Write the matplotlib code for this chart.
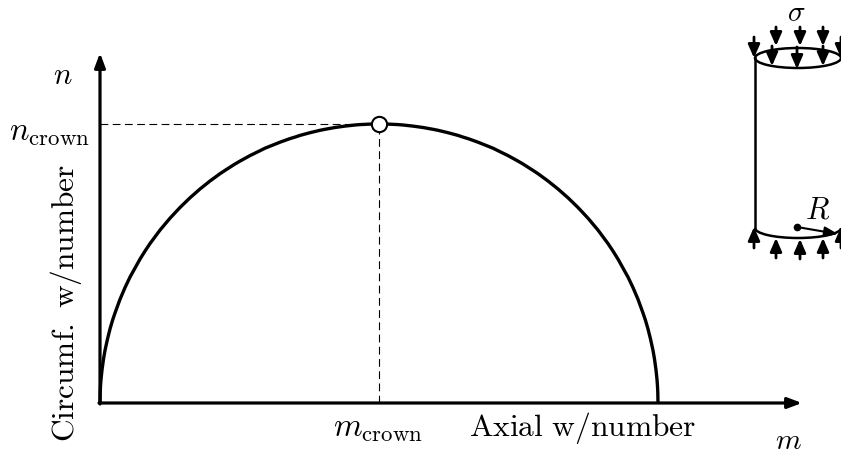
import matplotlib
matplotlib.use('Agg')
import matplotlib.pyplot as plt
from matplotlib.patches import Ellipse, Arc

plt.rcParams['mathtext.fontset'] = 'cm'

# curve, in wave number units
m_left = [0, 0.2, 0.5, 1, 2, 3.5, 5, 7.5, 10, 12.5, 15, 20, 25, 30, 40, 45, 50, 60, 70, 80, 90, 100,
          110, 120, 125, 135, 140, 150, 160, 165, 170, 180, 190, 195, 200, 210, 220, 225, 235, 245,
          255, 260, 270]
n_left = [0, 10.5, 16.7, 23.6, 33, 44, 52.6, 64, 74, 82.6, 90, 103.7, 115.4, 125.9, 143.9, 151.9,
          159.4, 172.9, 184.8, 195.5, 205.2, 214, 222, 229.3, 232.6, 239, 241.9, 247.4, 252.3,
          254.8, 256.8, 260.8, 264.4, 265.9, 267.6, 270.3, 272.7, 273.7, 275.5, 276.9, 278, 278.4,
          278.9]
m_crown = 279
n_crown = 279
m_right = [2 * m_crown - v for v in reversed(m_left)]
n_right = list(reversed(n_left))
m_curve = m_left + [m_crown] + m_right
n_curve = n_left + [n_crown] + n_right

# cylinder sketch, pixel positions in the sketch
top_outer_x = [754, 776, 800, 823, 841]
top_outer_start = [37, 27, 27, 27, 37]
top_outer_tip = [58, 46, 46, 46, 58]
top_inner_x = [772, 797, 823]
top_inner_start = [46, 47, 46]
top_inner_tip = [66, 69, 66]
bot_x = [754, 776, 800, 823, 841]
bot_start = [248, 258, 259, 258, 248]
bot_tip = [227, 238, 239, 238, 227]

fig = plt.figure(figsize=(8.41, 4.54), dpi=100)

# main axes, one unit is one pixel
ax = fig.add_axes([0, 0, 1, 1])
ax.set_xlim(-100, 741)
ax.set_ylim(-51, 403)
ax.axis('off')

ax.plot(m_curve, n_curve, color='k', lw=2.4, solid_capstyle='butt', zorder=3)
ax.plot([0, m_crown], [n_crown, n_crown], color='k', lw=0.8, dashes=(7, 4))
ax.plot([m_crown, m_crown], [0, n_crown], color='k', lw=0.8, dashes=(7, 4))
ax.plot([m_crown], [n_crown], 'o', ms=11, mfc='white', mec='k', mew=1.5, zorder=4)

# axes arrows
ax.annotate('', xy=(702, 0), xytext=(-1, 0),
            arrowprops=dict(arrowstyle='-|>,head_length=0.85,head_width=0.32', color='k', lw=2.3,
                            shrinkA=0, shrinkB=0))
ax.annotate('', xy=(0, 350), xytext=(0, -1),
            arrowprops=dict(arrowstyle='-|>,head_length=0.85,head_width=0.32', color='k', lw=2.3,
                            shrinkA=0, shrinkB=0))

# labels
ax.text(-37, 327, r'$n$', fontsize=22, ha='center', va='center')
ax.text(-51, 271, r'$n_{\mathrm{crown}}$', fontsize=23.5, ha='center', va='center')
ax.text(-34, 100, r'$\mathrm{Circumf.\ w/number}$', fontsize=22.6, rotation=90, ha='center', va='center')
ax.text(278, -25, r'$m_{\mathrm{crown}}$', fontsize=23.5, ha='center', va='center')
ax.text(483, -25, r'$\mathrm{Axial\ w/number}$', fontsize=22.7, ha='center', va='center')
ax.text(688, -38, r'$m$', fontsize=21, ha='center', va='center')

# cylinder sketch, pixel coordinates
sk = fig.add_axes([0, 0, 1, 1])
sk.set_xlim(0, 841)
sk.set_ylim(454, 0)
sk.axis('off')
sk.patch.set_alpha(0)

sk.add_patch(Ellipse((798, 58), 86, 20, fill=False, ec='k', lw=1.8))
sk.add_patch(Arc((798, 228), 86, 20, theta1=0, theta2=180, ec='k', lw=1.8))
sk.plot([755, 755], [58, 228], color='k', lw=1.8)


def down_up(x, y0, y1):
    sk.annotate('', xy=(x, y1), xytext=(x, y0), annotation_clip=False,
                arrowprops=dict(arrowstyle='-|>,head_length=0.8,head_width=0.35', color='k', lw=2,
                                shrinkA=0, shrinkB=0))


for x, y0, y1 in zip(top_outer_x, top_outer_start, top_outer_tip):
    down_up(x, y0, y1)
for x, y0, y1 in zip(top_inner_x, top_inner_start, top_inner_tip):
    down_up(x, y0, y1)
for x, y0, y1 in zip(bot_x, bot_start, bot_tip):
    down_up(x, y0, y1)

sk.plot([797], [227], 'o', ms=4.5, color='k')
sk.annotate('', xy=(838, 234), xytext=(797, 227),
            arrowprops=dict(arrowstyle='-|>,head_length=0.8,head_width=0.3', color='k', lw=1.5,
                            shrinkA=0, shrinkB=0))
sk.text(818, 210, r'$R$', fontsize=22, ha='center', va='center')
sk.text(796, 13, r'$\sigma$', fontsize=21, ha='center', va='center')

fig.savefig('out.png', dpi=100)
